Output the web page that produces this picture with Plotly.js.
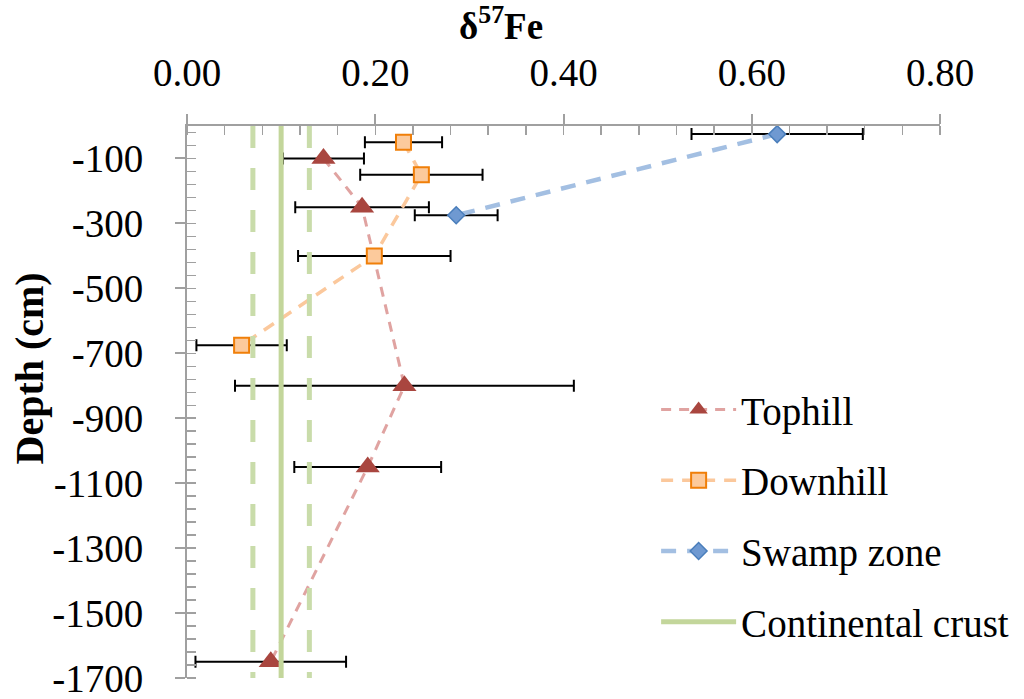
<!DOCTYPE html>
<html>
<head>
<meta charset="utf-8">
<script src="https://cdn.plot.ly/plotly-3.0.1.min.js"></script>
<style>html,body{margin:0;padding:0;background:#fff;}#chart{width:1024px;height:699px;}</style>
</head>
<body>
<div id="chart"></div>
<script>
// Data
const tophillDepth = [-100, -250, -800, -1050, -1650];
const tophillFe    = [0.145, 0.186, 0.231, 0.192, 0.089];
const tophillErr   = [0.043, 0.071, 0.180, 0.078, 0.080];

const downhillDepth = [-50, -150, -400, -675];
const downhillFe    = [0.230, 0.249, 0.199, 0.058];
const downhillErr   = [0.041, 0.065, 0.081, 0.048];

const swampDepth = [-25, -275];
const swampFe    = [0.627, 0.286];
const swampErr   = [0.091, 0.044];

const crustDepth = [0, -1700];
const crustFe    = [0.10, 0.10];
const crustLowFe = [0.07, 0.07];
const crustHighFe= [0.13, 0.13];

const seriesNames = ["Tophill", "Downhill", "Swamp zone", "Continental crust"];
const xTickVals   = [0, 0.2, 0.4, 0.6, 0.8];
const xTickText   = ["0.00", "0.20", "0.40", "0.60", "0.80"];
const yTickVals   = [-100, -300, -500, -700, -900, -1100, -1300, -1500, -1700];
const yTickText   = ["-100", "-300", "-500", "-700", "-900", "-1100", "-1300", "-1500", "-1700"];
const xTitle = "<b>δ<sup>57</sup>Fe</b>";
const yTitle = "<b>Depth (cm)</b>";

const FONT = "Liberation Serif, Times New Roman, serif";
const errStyle = {type: "data", symmetric: true, color: "#000000", thickness: 2, width: 6, visible: true};

const traces = [
  {
    name: seriesNames[0], x: tophillFe, y: tophillDepth, type: "scatter", mode: "lines+markers",
    legendrank: 1, legendgroup: "g1",
    line: {color: "#e0a3a1", width: 3, dash: "10px,8px"},
    marker: {symbol: "triangle-up", size: 21, color: "#a9463f", line: {width: 0}},
    error_x: Object.assign({array: tophillErr}, errStyle)
  },
  {
    name: seriesNames[1], x: downhillFe, y: downhillDepth, type: "scatter", mode: "lines+markers",
    legendrank: 2, legendgroup: "g2",
    line: {color: "#fbc89c", width: 3.5, dash: "12px,9px"},
    marker: {symbol: "square", size: 15, color: "#fcca9c", line: {width: 2, color: "#f07f09"}},
    error_x: Object.assign({array: downhillErr}, errStyle)
  },
  {
    name: seriesNames[2], x: swampFe, y: swampDepth, type: "scatter", mode: "lines+markers",
    legendrank: 3, legendgroup: "g3",
    line: {color: "#a3bfe2", width: 4.5, dash: "15px,11px"},
    marker: {symbol: "diamond", size: 13, color: "#6f99d1", line: {width: 1.5, color: "#4a7ebb"}},
    error_x: Object.assign({array: swampErr}, errStyle)
  },
  {
    name: "crust low", x: crustLowFe, y: crustDepth, type: "scatter", mode: "lines",
    showlegend: false, hoverinfo: "skip", legendgroup: "g4",
    line: {color: "#c9dcaa", width: 5, dash: "22px,20px"}
  },
  {
    name: "crust high", x: crustHighFe, y: crustDepth, type: "scatter", mode: "lines",
    showlegend: false, hoverinfo: "skip", legendgroup: "g4",
    line: {color: "#c9dcaa", width: 5, dash: "22px,20px"}
  },
  {
    name: seriesNames[3], x: crustFe, y: crustDepth, type: "scatter", mode: "lines",
    legendrank: 4, legendgroup: "g4",
    line: {color: "#c3d69b", width: 5}
  }
];

const axisGray = "#a0a0a0";
const layout = {
  width: 1024, height: 699, autosize: false,
  paper_bgcolor: "#ffffff", plot_bgcolor: "#ffffff",
  margin: {l: 187, r: 84, t: 126, b: 21, pad: 0, autoexpand: false},
  font: {family: FONT, color: "#000000", size: 38},
  showlegend: true,
  legend: {
    x: 0.623, y: 0.544, xanchor: "left", yanchor: "top",
    bgcolor: "rgba(255,255,255,0)", borderwidth: 0,
    font: {family: FONT, size: 39, color: "#000000"},
    traceorder: "grouped", itemwidth: 75, tracegroupgap: 17
  },
  xaxis: {
    side: "top", range: [0, 0.8], tickmode: "array", tickvals: xTickVals, ticktext: xTickText,
    showline: true, linecolor: axisGray, linewidth: 2, mirror: false,
    showgrid: false, zeroline: false, automargin: false,
    ticks: "outside", ticklen: 10, tickwidth: 2, tickcolor: axisGray,
    ticklabelstandoff: 12, ticklabeloverflow: "allow",
    minor: {tick0: 0, dtick: 0.04, ticks: "inside", ticklen: 9, tickwidth: 1.5, tickcolor: axisGray, showgrid: false},
    tickfont: {family: FONT, size: 39, color: "#000000"}
  },
  yaxis: {
    range: [-1700, 0], tickmode: "array", tickvals: yTickVals, ticktext: yTickText,
    showline: true, linecolor: axisGray, linewidth: 2, mirror: false,
    showgrid: false, zeroline: false, automargin: false,
    ticks: "outside", ticklen: 10, tickwidth: 2, tickcolor: axisGray,
    ticklabelstandoff: 24, ticklabeloverflow: "allow",
    minor: {tick0: -100, dtick: 40, ticks: "inside", ticklen: 9, tickwidth: 1.5, tickcolor: axisGray, showgrid: false},
    tickfont: {family: FONT, size: 39, color: "#000000"}
  },
  annotations: [
    {
      text: xTitle, xref: "paper", yref: "paper", x: 0.417, y: 1.185,
      xanchor: "center", yanchor: "middle", showarrow: false,
      font: {family: FONT, size: 37, color: "#000000"}
    },
    {
      text: yTitle, xref: "paper", yref: "paper", x: -0.209, y: 0.56,
      xanchor: "center", yanchor: "middle", showarrow: false, textangle: -90,
      font: {family: FONT, size: 40, color: "#000000"}
    }
  ]
};

Plotly.newPlot("chart", traces, layout, {staticPlot: true, displayModeBar: false});
</script>
</body>
</html>
